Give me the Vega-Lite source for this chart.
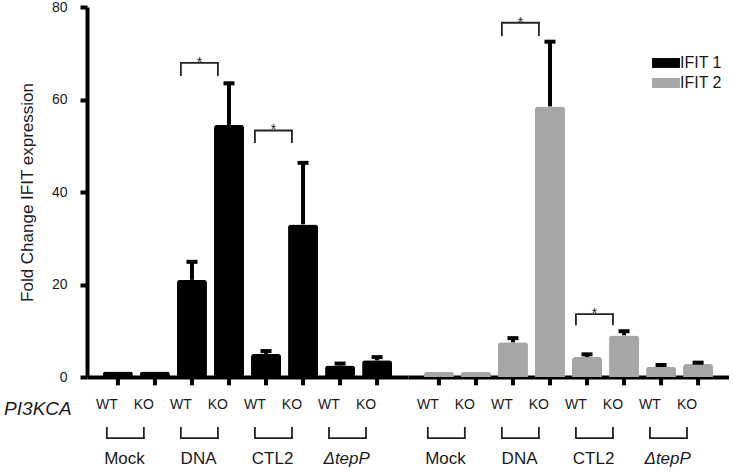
{
  "$schema": "https://vega.github.io/schema/vega-lite/v6.json",
  "autosize": {"type": "pad"},
  "padding": {"left": 4, "top": 0, "right": 0, "bottom": 0},
  "background": "white",
  "data": {"values": [
    {"kind": "bar", "gene": "IFIT 1", "group": "Mock", "cond": "WT", "bar": "Mock WT", "mean": 1.2, "upper": null},
    {"kind": "bar", "gene": "IFIT 1", "group": "Mock", "cond": "KO", "bar": "Mock KO", "mean": 1.2, "upper": null},
    {"kind": "bar", "gene": "IFIT 1", "group": "DNA", "cond": "WT", "bar": "DNA WT", "mean": 21.0, "upper": 24.9},
    {"kind": "bar", "gene": "IFIT 1", "group": "DNA", "cond": "KO", "bar": "DNA KO", "mean": 54.5, "upper": 63.5},
    {"kind": "bar", "gene": "IFIT 1", "group": "CTL2", "cond": "WT", "bar": "CTL2 WT", "mean": 5.0, "upper": 5.6},
    {"kind": "bar", "gene": "IFIT 1", "group": "CTL2", "cond": "KO", "bar": "CTL2 KO", "mean": 33.0, "upper": 46.3},
    {"kind": "bar", "gene": "IFIT 1", "group": "ΔtepP", "cond": "WT", "bar": "ΔtepP WT", "mean": 2.5, "upper": 2.9},
    {"kind": "bar", "gene": "IFIT 1", "group": "ΔtepP", "cond": "KO", "bar": "ΔtepP KO", "mean": 3.6, "upper": 4.3},
    {"kind": "bar", "gene": "IFIT 2", "group": "Mock", "cond": "WT", "bar": "Mock WT", "mean": 1.1, "upper": null},
    {"kind": "bar", "gene": "IFIT 2", "group": "Mock", "cond": "KO", "bar": "Mock KO", "mean": 1.1, "upper": null},
    {"kind": "bar", "gene": "IFIT 2", "group": "DNA", "cond": "WT", "bar": "DNA WT", "mean": 7.5, "upper": 8.4},
    {"kind": "bar", "gene": "IFIT 2", "group": "DNA", "cond": "KO", "bar": "DNA KO", "mean": 58.5, "upper": 72.5},
    {"kind": "bar", "gene": "IFIT 2", "group": "CTL2", "cond": "WT", "bar": "CTL2 WT", "mean": 4.3, "upper": 4.9},
    {"kind": "bar", "gene": "IFIT 2", "group": "CTL2", "cond": "KO", "bar": "CTL2 KO", "mean": 9.0, "upper": 9.9},
    {"kind": "bar", "gene": "IFIT 2", "group": "ΔtepP", "cond": "WT", "bar": "ΔtepP WT", "mean": 2.2, "upper": 2.6},
    {"kind": "bar", "gene": "IFIT 2", "group": "ΔtepP", "cond": "KO", "bar": "ΔtepP KO", "mean": 2.8, "upper": 3.1},
    {"kind": "sig", "gene": "IFIT 1", "group": "DNA", "cond": "WT", "bar": "DNA WT", "top": 67.9, "leg": 65.1},
    {"kind": "sig", "gene": "IFIT 1", "group": "DNA", "cond": "KO", "bar": "DNA KO", "top": 67.9, "leg": 65.1},
    {"kind": "sig", "gene": "IFIT 1", "group": "CTL2", "cond": "WT", "bar": "CTL2 WT", "top": 53.3, "leg": 50.6},
    {"kind": "sig", "gene": "IFIT 1", "group": "CTL2", "cond": "KO", "bar": "CTL2 KO", "top": 53.3, "leg": 50.6},
    {"kind": "sig", "gene": "IFIT 2", "group": "DNA", "cond": "WT", "bar": "DNA WT", "top": 76.6, "leg": 73.7},
    {"kind": "sig", "gene": "IFIT 2", "group": "DNA", "cond": "KO", "bar": "DNA KO", "top": 76.6, "leg": 73.7},
    {"kind": "sig", "gene": "IFIT 2", "group": "CTL2", "cond": "WT", "bar": "CTL2 WT", "top": 13.6, "leg": 11.2},
    {"kind": "sig", "gene": "IFIT 2", "group": "CTL2", "cond": "KO", "bar": "CTL2 KO", "top": 13.6, "leg": 11.2}
  ]},
  "facet": {"column": {"field": "gene", "type": "nominal", "sort": ["IFIT 1", "IFIT 2"], "header": null}},
  "spacing": 0,
  "bounds": "flush",
  "resolve": {"axis": {"x": "independent"}},
  "spec": {
    "width": 321,
    "height": 370,
    "layer": [
      {
        "transform": [{"filter": "datum.kind == 'bar'"}],
        "mark": {"type": "bar", "cornerRadiusTopLeft": 3, "cornerRadiusTopRight": 3},
        "encoding": {
          "x": {
            "field": "bar", "type": "nominal",
            "sort": ["Mock WT", "Mock KO", "DNA WT", "DNA KO", "CTL2 WT", "CTL2 KO", "ΔtepP WT", "ΔtepP KO"],
            "scale": {"paddingInner": 0.19, "paddingOuter": 0.43},
            "axis": {"title": null, "labels": false, "ticks": false, "domain": true, "domainWidth": 4, "domainColor": "#000000", "grid": false}
          },
          "y": {"field": "mean", "type": "quantitative", "title": "Fold Change IFIT expression",
                "scale": {"domain": [0, 80], "nice": false},
                "axis": {"values": [0, 20, 40, 60, 80], "grid": false, "domainWidth": 4, "domainColor": "#000000", "tickWidth": 4, "tickSize": 7, "tickColor": "#000000", "labelFontSize": 14, "labelPadding": 13, "labelColor": "#1a1a1a", "titleFontSize": 17, "titleFontWeight": "normal", "titleColor": "#1a1a1a", "titlePadding": 15}},
          "color": {"field": "gene", "type": "nominal", "scale": {"domain": ["IFIT 1", "IFIT 2"], "range": ["#000000", "#a6a6a6"]},
                    "legend": {"title": null, "orient": "none", "legendX": 570, "legendY": 47, "symbolType": "M-1.55,-0.55H1.55V0.55H-1.55Z", "symbolSize": 324, "symbolStrokeWidth": 0, "labelFontSize": 16, "labelColor": "#1a1a1a", "labelOffset": 5, "rowPadding": 3}}
        }
      },
      {
        "transform": [{"filter": "datum.kind == 'bar' && datum.upper != null"}],
        "mark": {"type": "rule", "strokeWidth": 4, "color": "#000000"},
        "encoding": {
          "x": {"field": "bar", "type": "nominal", "sort": ["Mock WT", "Mock KO", "DNA WT", "DNA KO", "CTL2 WT", "CTL2 KO", "ΔtepP WT", "ΔtepP KO"]},
          "y": {"field": "mean", "type": "quantitative", "title": "Fold Change IFIT expression"},
          "y2": {"field": "upper"}
        }
      },
      {
        "transform": [{"filter": "datum.kind == 'bar' && datum.upper != null"}],
        "mark": {"type": "tick", "thickness": 4, "size": 11, "color": "#000000", "opacity": 1},
        "encoding": {
          "x": {"field": "bar", "type": "nominal", "sort": ["Mock WT", "Mock KO", "DNA WT", "DNA KO", "CTL2 WT", "CTL2 KO", "ΔtepP WT", "ΔtepP KO"]},
          "y": {"field": "upper", "type": "quantitative", "title": "Fold Change IFIT expression"}
        }
      },
      {
        "transform": [{"filter": "datum.kind == 'bar'"}],
        "mark": {"type": "rule", "strokeWidth": 4, "color": "#000000"},
        "encoding": {
          "x": {"field": "bar", "type": "nominal", "sort": ["Mock WT", "Mock KO", "DNA WT", "DNA KO", "CTL2 WT", "CTL2 KO", "ΔtepP WT", "ΔtepP KO"]},
          "y": {"datum": 0, "type": "quantitative"},
          "y2": {"datum": -1.8}
        }
      },
      {
        "transform": [{"filter": "datum.kind == 'sig'"}],
        "mark": {"type": "rule", "strokeWidth": 1.8, "color": "#222222"},
        "encoding": {
          "x": {"field": "bar", "type": "nominal", "bandPosition": 0.13, "sort": ["Mock WT", "Mock KO", "DNA WT", "DNA KO", "CTL2 WT", "CTL2 KO", "ΔtepP WT", "ΔtepP KO"]},
          "y": {"field": "leg", "type": "quantitative", "title": "Fold Change IFIT expression"},
          "y2": {"field": "top"}
        }
      },
      {
        "transform": [{"filter": "datum.kind == 'sig' && datum.cond == 'WT'"}],
        "mark": {"type": "tick", "thickness": 1.8, "size": 38.8, "color": "#222222", "opacity": 1},
        "encoding": {
          "x": {"field": "bar", "type": "nominal", "sort": ["Mock WT", "Mock KO", "DNA WT", "DNA KO", "CTL2 WT", "CTL2 KO", "ΔtepP WT", "ΔtepP KO"]},
          "xOffset": {"value": 22.5},
          "y": {"field": "top", "type": "quantitative", "title": "Fold Change IFIT expression"}
        }
      },
      {
        "transform": [{"filter": "datum.kind == 'sig' && datum.cond == 'WT'"}],
        "mark": {"type": "text", "text": "*", "fontSize": 14, "dy": 4, "baseline": "alphabetic", "color": "#222222"},
        "encoding": {
          "x": {"field": "bar", "type": "nominal", "bandPosition": 0.75, "sort": ["Mock WT", "Mock KO", "DNA WT", "DNA KO", "CTL2 WT", "CTL2 KO", "ΔtepP WT", "ΔtepP KO"]},
          "y": {"field": "top", "type": "quantitative", "title": "Fold Change IFIT expression"}
        }
      },
      {
        "transform": [{"filter": "datum.kind == 'bar'"}],
        "mark": {"type": "text", "fontSize": 14, "baseline": "middle", "color": "#1a1a1a"},
        "encoding": {
          "x": {"field": "bar", "type": "nominal", "bandPosition": 0.13, "sort": ["Mock WT", "Mock KO", "DNA WT", "DNA KO", "CTL2 WT", "CTL2 KO", "ΔtepP WT", "ΔtepP KO"]},
          "y": {"datum": -6.05, "type": "quantitative"},
          "text": {"field": "cond"}
        }
      },
      {
        "transform": [{"filter": "datum.kind == 'bar'"}],
        "mark": {"type": "rule", "strokeWidth": 1.8, "color": "#222222"},
        "encoding": {
          "x": {"field": "bar", "type": "nominal", "bandPosition": 0.13, "sort": ["Mock WT", "Mock KO", "DNA WT", "DNA KO", "CTL2 WT", "CTL2 KO", "ΔtepP WT", "ΔtepP KO"]},
          "y": {"datum": -10.8, "type": "quantitative"},
          "y2": {"datum": -13.2}
        }
      },
      {
        "transform": [{"filter": "datum.kind == 'bar' && datum.cond == 'WT'"}],
        "mark": {"type": "tick", "thickness": 1.8, "size": 38.8, "color": "#222222", "opacity": 1},
        "encoding": {
          "x": {"field": "bar", "type": "nominal", "sort": ["Mock WT", "Mock KO", "DNA WT", "DNA KO", "CTL2 WT", "CTL2 KO", "ΔtepP WT", "ΔtepP KO"]},
          "xOffset": {"value": 22.5},
          "y": {"datum": -13.2, "type": "quantitative"}
        }
      },
      {
        "transform": [{"filter": "datum.kind == 'bar' && datum.cond == 'WT' && datum.group != 'ΔtepP'"}],
        "mark": {"type": "text", "fontSize": 17, "baseline": "middle", "color": "#1a1a1a"},
        "encoding": {
          "x": {"field": "bar", "type": "nominal", "bandPosition": 0.72, "sort": ["Mock WT", "Mock KO", "DNA WT", "DNA KO", "CTL2 WT", "CTL2 KO", "ΔtepP WT", "ΔtepP KO"]},
          "y": {"datum": -17.7, "type": "quantitative"},
          "text": {"field": "group"}
        }
      },
      {
        "transform": [{"filter": "datum.kind == 'bar' && datum.cond == 'WT' && datum.group == 'ΔtepP'"}],
        "mark": {"type": "text", "fontSize": 17, "fontStyle": "italic", "baseline": "middle", "color": "#1a1a1a"},
        "encoding": {
          "x": {"field": "bar", "type": "nominal", "bandPosition": 0.72, "sort": ["Mock WT", "Mock KO", "DNA WT", "DNA KO", "CTL2 WT", "CTL2 KO", "ΔtepP WT", "ΔtepP KO"]},
          "y": {"datum": -17.7, "type": "quantitative"},
          "text": {"field": "group"}
        }
      },
      {
        "transform": [{"filter": "datum.kind == 'bar' && datum.gene == 'IFIT 1' && datum.bar == 'Mock WT'"}],
        "mark": {"type": "text", "text": "PI3KCA", "fontSize": 19, "fontStyle": "italic", "baseline": "middle", "dx": -80, "color": "#1a1a1a"},
        "encoding": {
          "x": {"field": "bar", "type": "nominal", "sort": ["Mock WT", "Mock KO", "DNA WT", "DNA KO", "CTL2 WT", "CTL2 KO", "ΔtepP WT", "ΔtepP KO"]},
          "y": {"datum": -6.9, "type": "quantitative"}
        }
      }
    ]
  },
  "config": {
    "font": "Liberation Sans",
    "view": {"stroke": null},
    "axis": {"grid": false}
  }
}
